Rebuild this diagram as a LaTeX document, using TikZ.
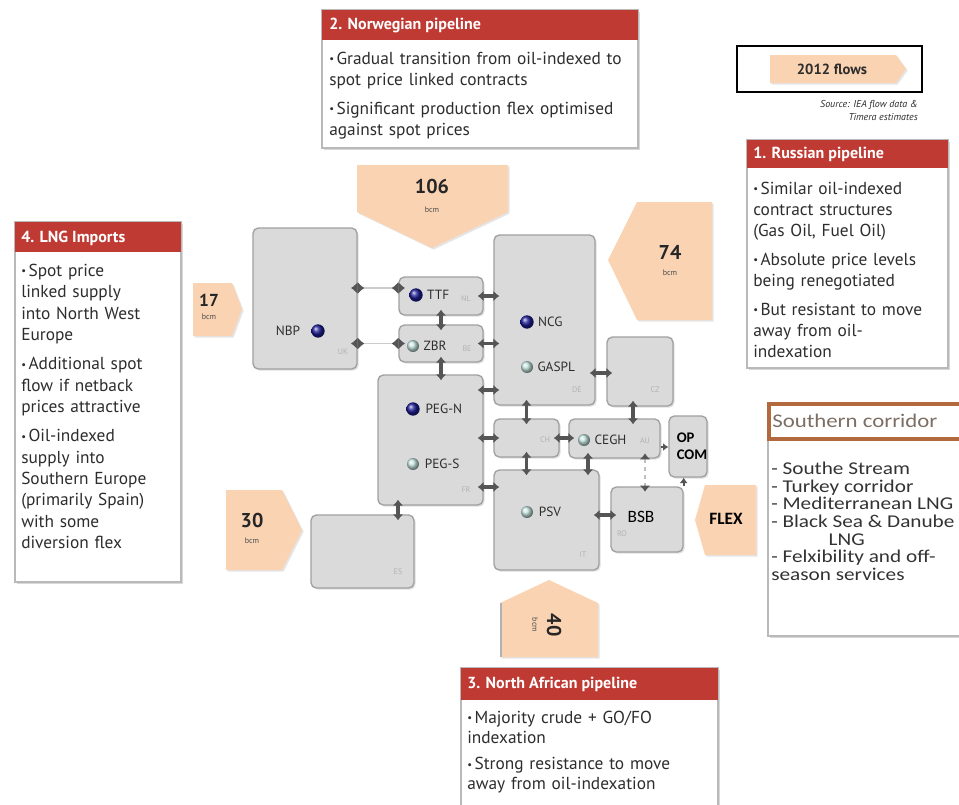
\documentclass[tikz,border=0pt]{standalone}
\usepackage{fontspec}
\setmainfont{PT Sans}
\newfontfamily\calib{Carlito}
\newfontfamily\calibw[FakeStretch=1.18]{Carlito}
\usetikzlibrary{arrows.meta,positioning,fit,shadows}

\definecolor{peach}{RGB}{250,211,178}
\definecolor{hdred}{RGB}{192,58,52}
\definecolor{hubfill}{RGB}{218,218,218}
\definecolor{hubedge}{RGB}{160,160,160}
\definecolor{linkgray}{RGB}{85,85,85}
\definecolor{dotblue}{RGB}{30,30,150}
\definecolor{dotpale}{RGB}{200,232,226}
\definecolor{corrbrown}{RGB}{178,105,62}
\definecolor{corrtext}{RGB}{125,110,100}
\definecolor{txtgray}{RGB}{45,45,45}

% bullets with hanging indent
\newcommand\bul{\par\hangindent=0.42em\hangafter=1\noindent\makebox[0.42em][l]{\raisebox{0.2ex}{\fontsize{8}{8}\selectfont\textbullet}}}
\newcommand\nextbul{\par\vspace{6pt}\bul}

\begin{document}
\begin{tikzpicture}[x=0.75pt,y=-0.75pt,
	hub/.style={draw=hubedge, fill=hubfill, line width=1pt, rounded corners=4pt, inner sep=0pt,
		drop shadow={opacity=0.25, shadow xshift=1.2pt, shadow yshift=-1.2pt}},
	hubtxt/.style={text=txtgray, font=\fontsize{10}{11}\selectfont, inner sep=0pt},
	cc/.style={text=gray!60, font=\fontsize{6}{7}\selectfont, inner sep=0pt},
	bluedot/.style={circle, inner sep=0pt, minimum size=10pt, ball color=dotblue},
	paledot/.style={circle, inner sep=0pt, minimum size=9pt, ball color=dotpale},
	link/.style={{Latex[length=4.5pt,width=8pt]}-{Latex[length=4.5pt,width=8pt]}, line width=2.6pt,
		draw=linkgray, shorten <=-4.5pt, shorten >=-4.5pt},
	longlink/.style={draw=gray!40, line width=0.8pt, shorten <=-5pt, shorten >=-5pt,
		{Latex[length=5pt,width=9pt,color=linkgray] Latex[length=5pt,width=9pt,color=linkgray,reversed]}-{Latex[length=5pt,width=9pt,color=linkgray,reversed] Latex[length=5pt,width=9pt,color=linkgray]}},
	onelink/.style={-{Latex[length=4pt,width=6pt]}, line width=1.4pt, draw=linkgray},
	dotlink/.style={draw=gray!50, line width=1pt, dashed, shorten <=-4pt, shorten >=-4pt,
		{Latex[length=4.5pt,width=8pt,color=linkgray]}-{Latex[length=4.5pt,width=8pt,color=linkgray]}},
	flow/.style={fill=peach, drop shadow={opacity=0.2, shadow xshift=1.2pt, shadow yshift=-1.2pt}},
	flownum/.style={font=\bfseries\fontsize{15}{16}\selectfont, text=black!85, inner sep=0pt},
	bcm/.style={font=\fontsize{6}{7}\selectfont, text=black!70, inner sep=0pt},
	redbody/.style={draw=gray!55, fill=white, line width=0.8pt, inner sep=0pt,
		drop shadow={opacity=0.3, shadow xshift=1.5pt, shadow yshift=-1.5pt}},
	redhead/.style={fill=hdred, inner sep=0pt},
	headtxt/.style={anchor=west, text=white, inner sep=0pt, font=\bfseries\fontsize{12}{14}\selectfont},
	bodytxt/.style={anchor=north west, inner sep=0pt, align=left, text=txtgray,
		font=\fontsize{13}{15.75}\selectfont},
	]
	\useasboundingbox[fill=white] (0,0) rectangle (959,804);

	% legend
	\node[draw=black, line width=1.6pt, inner sep=0pt, fit={(737,46) (922,92)}] (legend) {};
	\path[flow] (770,55) -- (896,55) -- (906,69) -- (896,83) -- (770,83) -- cycle;
	\node[font=\bfseries\fontsize{11}{12}\selectfont, text=txtgray, inner sep=0pt] (flows) at (832,69) {2012 flows};
	\node[font=\itshape\fontsize{7.5}{10}\selectfont, align=right, anchor=north east, text=txtgray, inner sep=0pt]
		(source) at (918,100) {Source: IEA flow data \&\\Timera estimates};

	% 2. Norwegian pipeline
	\node[redbody, fit={(322,10) (638,148)}] (nor) {};
	\node[redhead, fit={(322,10) (638,40)}] (nor-h) {};
	\node[headtxt] (nor-title) at (329,25) {2. Norwegian pipeline};
	\node[bodytxt, text width=240pt] (nor-txt) at (329,43)
		{\bul Gradual transition from oil-indexed to\\spot price linked contracts
		\nextbul Significant production flex optimised\\against spot prices};

	% 1. Russian pipeline
	\node[redbody, fit={(747,140) (948,368)}] (rus) {};
	\node[redhead, fit={(747,140) (948,168)}] (rus-h) {};
	\node[headtxt] (rus-title) at (753,154) {1. Russian pipeline};
	\node[bodytxt, text width=150pt] (rus-txt) at (753,173)
		{\bul Similar oil-indexed\\contract structures\\(Gas Oil, Fuel Oil)
		\nextbul Absolute price levels\\being renegotiated
		\nextbul But resistant to move\\away from oil-\\indexation};

	% 4. LNG imports
	\node[redbody, fit={(15,222) (181,582)}] (lng) {};
	\node[redhead, fit={(15,222) (181,252)}] (lng-h) {};
	\node[headtxt] (lng-title) at (21,238) {4. LNG Imports};
	\node[bodytxt, text width=125pt, font=\fontsize{13}{16}\selectfont] (lng-txt) at (21,255)
		{\bul Spot price\\linked supply\\into North West\\Europe
		\nextbul Additional spot\\flow if netback\\prices attractive
		\nextbul Oil-indexed\\supply into\\Southern Europe\\(primarily Spain)\\with some\\diversion flex};

	% 3. North African pipeline
	\node[redbody, fit={(461,668) (718,812)}] (naf) {};
	\node[redhead, fit={(461,668) (718,700)}] (naf-h) {};
	\node[headtxt] (naf-title) at (467,684) {3. North African pipeline};
	\node[bodytxt, text width=190pt, font=\fontsize{13}{15}\selectfont] (naf-txt) at (467,703)
		{\bul Majority crude + GO/FO\\indexation
		\par\vspace{5pt}\bul Strong resistance to move\\away from oil-indexation};

	% Southern corridor
	\node[draw=gray!55, fill=white, line width=0.8pt, inner sep=0pt,
		drop shadow={opacity=0.3, shadow xshift=1.5pt, shadow yshift=-1.5pt}, fit={(768,440) (968,636)}] (corr) {};
	\node[draw=corrbrown, fill=white, line width=3pt, inner sep=0pt, fit={(769,404) (968,439)}] (corr-h) {};
	\node[anchor=west, inner sep=0pt, text=corrtext, font=\calibw\fontsize{14.5}{16}\selectfont] (corr-title) at (772,421) {Southern corridor};
	\node[bodytxt, text=black!80, font=\calibw\fontsize{13.5}{13.2}\selectfont] (corr-txt) at (771,462)
		{- Southe Stream\\- Turkey corridor\\- Mediterranean LNG\\- Black Sea \& Danube\\\hspace*{43pt}LNG\\- Felxibility and off-\\season services};

	% flows
	\path[flow] (357,165) -- (508,165) -- (508,212) -- (432,248) -- (357,212) -- cycle;
	\node[flownum] (nor-flow) at (432,186) {106};
	\node[bcm] (nor-bcm) at (432,210) {bcm};
	\path[flow] (637,202) -- (712,202) -- (712,320) -- (637,320) -- (608,260) -- cycle;
	\node[flownum] (rus-flow) at (670,252) {74};
	\node[bcm] (rus-bcm) at (670,273) {bcm};
	\path[flow] (193,283) -- (232,283) -- (242,309) -- (232,336) -- (193,336) -- cycle;
	\node[flownum, font=\bfseries\fontsize{13}{14}\selectfont] (lng-flow) at (209,300) {17};
	\node[bcm] (lng-bcm) at (209,317) {bcm};
	\path[flow] (226,490) -- (282,490) -- (302,530) -- (282,570) -- (226,570) -- cycle;
	\node[flownum] (es-flow) at (252,520) {30};
	\node[bcm] (es-bcm) at (252,541) {bcm};
	\path[flow] (500,657) -- (500,603) -- (549,580) -- (598,603) -- (598,657) -- cycle;
	\draw[gray!60, line width=1pt] (501,603) -- (501,657);
	\node[flownum, rotate=-90] (naf-flow) at (554,625) {40};
	\node[bcm, rotate=-90] (naf-bcm) at (535,625) {bcm};
	\path[flow] (705,485) -- (756,485) -- (756,555) -- (705,555) -- (695,520) -- cycle;
	\node[font=\calib\bfseries\fontsize{13}{14}\selectfont, inner sep=0pt] (flex) at (726,519) {FLEX};

	% hubs
	\node[hub, fit={(253,228) (357,369)}] (uk) {};
	\node[hub, fit={(399,277) (483,315)}] (ttf) {};
	\node[hub, fit={(399,325) (483,362)}] (zbr) {};
	\node[hub, fit={(494,235) (595,405)}] (de) {};
	\node[hub, fit={(607,337) (673,406)}] (cz) {};
	\node[hub, fit={(378,375) (483,505)}] (fr) {};
	\node[hub, fit={(494,419) (559,457)}] (ch) {};
	\node[hub, fit={(569,419) (660,458)}] (au) {};
	\node[hub, fit={(669,416) (707,477)}] (opcom) {};
	\node[hub, fit={(494,470) (599,570)}] (it) {};
	\node[hub, fit={(611,487) (683,552)}] (bsb) {};
	\node[hub, fit={(311,515) (414,588)}] (es) {};

	% trading points
	\node[bluedot] (nbp-dot) at (318,331) {};
	\node[hubtxt, left=8pt of nbp-dot] (nbp) {NBP};
	\node[bluedot] (ttf-dot) at (416,295) {};
	\node[hubtxt, right=3pt of ttf-dot] (ttf-l) {TTF};
	\node[paledot] (zbr-dot) at (413,346) {};
	\node[hubtxt, right=3pt of zbr-dot] (zbr-l) {ZBR};
	\node[bluedot] (ncg-dot) at (527,322) {};
	\node[hubtxt, right=3pt of ncg-dot] (ncg) {NCG};
	\node[paledot] (gaspl-dot) at (527,367) {};
	\node[hubtxt, right=3pt of gaspl-dot] (gaspl) {GASPL};
	\node[bluedot] (pegn-dot) at (413,409) {};
	\node[hubtxt, right=4pt of pegn-dot] (pegn) {PEG-N};
	\node[paledot] (pegs-dot) at (413,464) {};
	\node[hubtxt, right=4pt of pegs-dot] (pegs) {PEG-S};
	\node[paledot] (cegh-dot) at (584,440) {};
	\node[hubtxt, right=3pt of cegh-dot] (cegh) {CEGH};
	\node[paledot] (psv-dot) at (527,512) {};
	\node[hubtxt, right=4pt of psv-dot] (psv) {PSV};
	\node[font=\calib\bfseries\fontsize{11}{13}\selectfont, align=left, inner sep=0pt] (opcom-l) at (692,446) {OP\\COM};
	\node[font=\calib\fontsize{13}{14}\selectfont, inner sep=0pt] (bsb-l) at (641,517) {BSB};

	% country codes
	\node[cc] (uk-c) at (343,352) {UK};
	\node[cc] (nl-c) at (466,299) {NL};
	\node[cc] (be-c) at (467,349) {BE};
	\node[cc] (de-c) at (577,390) {DE};
	\node[cc] (cz-c) at (655,390) {CZ};
	\node[cc] (fr-c) at (466,490) {FR};
	\node[cc] (ch-c) at (545,440) {CH};
	\node[cc] (au-c) at (645,441) {AU};
	\node[cc] (it-c) at (583,555) {IT};
	\node[cc] (ro-c) at (622,534) {RO};
	\node[cc] (es-c) at (398,572) {ES};

	% interconnectors
	\draw[longlink] (uk.east |- 0,288) -- (ttf.west |- 0,288);
	\draw[longlink] (uk.east |- zbr.west) -- (zbr.west);
	\draw[link] (ttf.south) -- (zbr.north);
	\draw[link] (ttf.east) -- (ttf.east -| de.west);
	\draw[link] (zbr.east) -- (zbr.east -| de.west);
	\draw[link] (zbr.south) -- (zbr.south |- fr.north);
	\draw[link] (fr.east |- 0,390) -- (de.west |- 0,390);
	\draw[link] (fr.east |- ch.west) -- (ch.west);
	\draw[link] (fr.east |- 0,487) -- (it.west |- 0,487);
	\draw[link] (de.east |- 0,373) -- (cz.west |- 0,373);
	\draw[link] (de.south -| ch.north) -- (ch.north);
	\draw[link] (cz.south -| 633,0) -- (au.north -| 633,0);
	\draw[link] (ch.east) -- (ch.east -| au.west);
	\draw[link] (ch.south) -- (ch.south |- it.north);
	\draw[link] (au.south -| 588,0) -- (it.north -| 588,0);
	\draw[onelink] (au.east |- 0,447) -- (opcom.west |- 0,447);
	\draw[dotlink] (au.south -| 645,0) -- (bsb.north -| 645,0);
	\draw[onelink] (bsb.north east) -- (bsb.north east |- opcom.south);
	\draw[link] (it.east |- 0,515) -- (bsb.west |- 0,515);
	\draw[link] (fr.south -| 398,0) -- (es.north -| 398,0);
\end{tikzpicture}
\end{document}
